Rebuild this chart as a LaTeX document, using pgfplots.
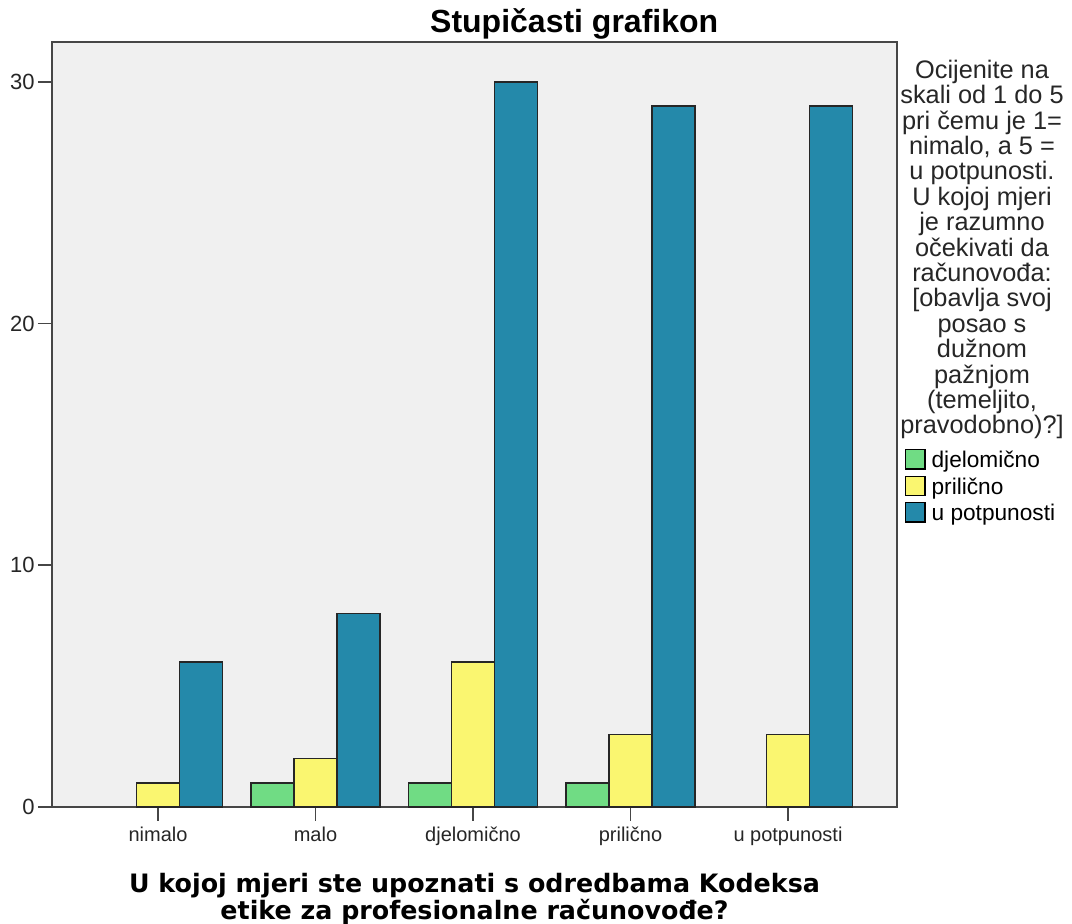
\documentclass[border=0pt]{standalone}
\usepackage{pgfplots}
\pgfplotsset{compat=1.18}
\usepackage{fontspec}
\setmainfont{Liberation Sans}
\newfontfamily\dejavu{DejaVu Sans}
\definecolor{cgreen}{RGB}{112,220,132}
\definecolor{cyellow}{RGB}{250,246,112}
\definecolor{cblue}{RGB}{36,137,170}
\definecolor{bgc}{RGB}{240,240,240}
\definecolor{axc}{RGB}{70,70,70}
\begin{document}
\begin{tikzpicture}
\begin{axis}[
  name=ax,
  scale only axis,
  width=633.75pt, height=573.75pt,
  ybar=0pt, bar width=32.25pt,
  xmin=-0.673, xmax=4.692,
  ymin=0, ymax=31.65,
  xtick={0,1,2,3,4},
  xticklabels={nimalo,malo,djelomično,prilično,u potpunosti},
  ytick={0,10,20,30},
  tick align=outside,
  major tick length=10.5pt,
  tick style={axc, line width=1.3pt},
  xtick pos=bottom, ytick pos=left,
  axis line style={axc, line width=1.5pt},
  axis background/.style={fill=bgc},
  /pgf/number format/assume math mode=true,
  xticklabel style={font=\fontsize{15}{17}\selectfont, text=black!85, yshift=-1pt},
  yticklabel style={font=\fontsize{16.5}{18}\selectfont, text=black!85, xshift=1pt},
  clip=false,
  legend style={at={(rel axis cs:1.009,0.469)}, anchor=north west, draw=none, fill=none,
    font=\fontsize{17}{18.75}\selectfont, row sep=2pt, inner sep=0pt,
    legend cell align=left},
  legend image code/.code={\draw[#1, draw=black, line width=1pt] (0pt,-6.5pt) rectangle (14.5pt,8pt); \path (17pt,0pt);},
  every axis plot/.append style={draw=black!85, line width=1.1pt},
]
\addplot[fill=cgreen] coordinates {(1,1) (2,1) (3,1)};
\addplot[fill=cyellow] coordinates {(0,1) (1,2) (2,6) (3,3) (4,3)};
\addplot[fill=cblue] coordinates {(0,6) (1,8) (2,30) (3,29) (4,29)};
\legend{djelomično,prilično,u potpunosti}
\node[font=\bfseries\fontsize{24}{26}\selectfont, anchor=center] at (rel axis cs:0.618,1.024) {Stupičasti grafikon};
\node[font=\dejavu\bfseries\fontsize{19}{18.75}\selectfont, align=center, anchor=north] at (rel axis cs:0.5,-0.08) {U kojoj mjeri ste upoznati s odredbama Kodeksa\\etike za profesionalne računovođe?};
\node[font=\fontsize{19}{19.05}\selectfont, align=center, anchor=north, text=black!85, inner sep=0pt] at (rel axis cs:1.1006,0.977) {Ocijenite na\\skali od 1 do 5\\pri čemu je 1=\\nimalo, a 5 =\\u potpunosti.\\U kojoj mjeri\\je razumno\\očekivati da\\računovođa:\\{[}obavlja svoj\\posao s\\dužnom\\pažnjom\\(temeljito,\\pravodobno)?{]}};
\end{axis}
\pgfresetboundingbox
\path[use as bounding box] ([xshift=-39pt,yshift=-87.75pt]ax.south west) rectangle ([xshift=131.25pt,yshift=31.5pt]ax.north east);
\end{tikzpicture}
\end{document}
